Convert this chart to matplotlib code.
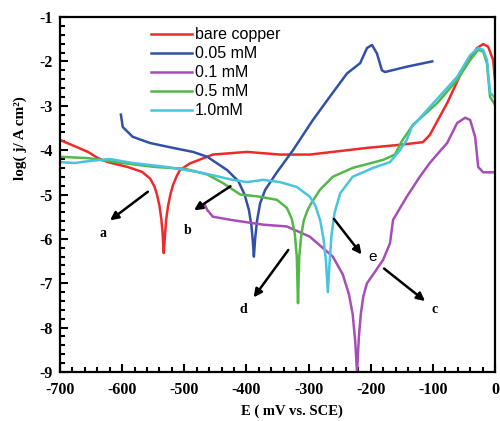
import matplotlib

matplotlib.use("Agg")
import matplotlib.pyplot as plt
from matplotlib.ticker import MultipleLocator

plt.rcParams["axes.unicode_minus"] = False

# potential E (mV vs SCE) and log current density for each curve
bare_e = [-700, -655, -639, -623, -591, -568, -555, -548, -544, -540, -537, -535, -533, -531, -529, -526,
          -522, -518, -512, -507, -491, -454, -399, -346, -298, -261, -206, -153, -116, -105, -77, -52,
          -29, -19, -11, -3, 0]
bare_j = [-3.77, -4.04, -4.18, -4.27, -4.38, -4.49, -4.64, -4.82, -5.0, -5.25, -5.55, -5.85, -6.32, -5.9, -5.55, -5.25,
          -4.98, -4.78, -4.58, -4.45, -4.3, -4.1, -4.04, -4.1, -4.1, -4.04, -3.95, -3.88, -3.82, -3.66, -2.94, -2.19,
          -1.7, -1.61, -1.67, -1.97, -2.42]

c005_e = [-602, -599, -583, -555, -518, -486, -463, -431, -413, -403, -396, -392, -390, -388, -386, -383,
          -378, -370, -351, -325, -293, -266, -238, -217, -206, -198, -190, -182, -177, -142, -101]
c005_j = [-3.2, -3.48, -3.7, -3.84, -3.95, -4.04, -4.15, -4.45, -4.7, -5.0, -5.35, -5.7, -6.0, -6.4, -6.0, -5.6,
          -5.2, -4.9, -4.5, -4.0, -3.32, -2.8, -2.27, -2.04, -1.7, -1.63, -1.82, -2.2, -2.24, -2.12, -2.0]

c01_e = [-467, -463, -454, -426, -373, -335, -298, -261, -245, -235, -229, -225, -222, -219, -216, -212,
         -206, -193, -180, -169, -164, -142, -121, -105, -84, -77, -61, -48, -40, -32, -27, -19, 0]
c01_j = [-5.23, -5.35, -5.5, -5.57, -5.68, -5.72, -5.95, -6.4, -6.8, -7.25, -7.7, -8.3, -9.0, -8.2, -7.7, -7.3,
         -7.0, -6.74, -6.47, -6.1, -5.57, -5.05, -4.6, -4.29, -3.95, -3.84, -3.39, -3.27, -3.32, -3.7, -4.38, -4.5, -4.5]

c05_e = [-700, -655, -600, -547, -499, -463, -438, -410, -378, -351, -335, -327, -322, -319, -317, -315,
         -312, -308, -303, -298, -282, -261, -229, -180, -161, -150, -132, -93, -61, -40, -27, -19, -13, -8, 0]
c05_j = [-4.15, -4.18, -4.29, -4.38, -4.42, -4.55, -4.74, -5.0, -5.05, -5.12, -5.3, -5.55, -5.9, -6.4, -7.45, -6.4,
         -5.95, -5.6, -5.4, -5.25, -4.9, -4.6, -4.4, -4.22, -4.1, -3.8, -3.43, -2.94, -2.42, -1.97, -1.74, -1.78,
         -2.04, -2.8, -2.98]

c10_e = [-700, -676, -655, -620, -583, -528, -475, -422, -399, -373, -346, -319, -298, -289, -281, -276, -272,
         -269, -266, -263, -258, -249, -229, -196, -169, -153, -142, -134, -105, -61, -40, -27, -19, -13, -8, 0]
c10_j = [-4.27, -4.29, -4.25, -4.2, -4.29, -4.38, -4.5, -4.67, -4.72, -4.67, -4.72, -4.83, -5.05, -5.25, -5.6, -6.0,
         -6.5, -7.2, -6.5, -5.9, -5.4, -4.97, -4.6, -4.4, -4.27, -4.0, -3.77, -3.48, -3.03, -2.35, -1.86, -1.7,
         -1.74, -1.97, -2.71, -2.82]

series = [
    ("bare copper", bare_e, bare_j, "#ee2a2a"),
    ("0.05 mM", c005_e, c005_j, "#3150a8"),
    ("0.1 mM", c01_e, c01_j, "#a64db8"),
    ("0.5 mM", c05_e, c05_j, "#52b848"),
    ("1.0mM", c10_e, c10_j, "#48c4de"),
]

# curve labels: (text, arrow tail, arrow head, text position)
labels = [
    ("a", (-555, -4.9), (-623, -5.62), (-631, -5.87)),
    ("b", (-422, -4.78), (-488, -5.39), (-494, -5.8)),
    ("d", (-330, -6.2), (-391, -7.37), (-405, -7.6)),
    ("c", (-182, -6.63), (-109, -7.44), (-97, -7.6)),
    ("e", (-262, -5.5), (-212, -6.4), (-204, -6.4)),
]

fig = plt.figure(figsize=(5.0, 4.21), dpi=100)
ax = fig.add_axes([0.12, 0.1164, 0.87, 0.8432])

for name, e, j, color in series:
    ax.plot(e, j, color=color, lw=1.8, label=name, solid_joinstyle="round")

for text, tail, head, pos in labels:
    ax.annotate("", xy=head, xytext=tail,
                arrowprops=dict(arrowstyle="-|>", lw=1.8, color="black", mutation_scale=12))
    if text == "e":
        ax.text(pos[0], pos[1], text, fontsize=11, ha="left", va="center", family="Liberation Sans")
    else:
        ax.text(pos[0], pos[1], text, fontsize=10, ha="center", va="center",
                family="Liberation Serif", fontweight="bold")

ax.set_xlim(-700, 0)
ax.set_ylim(-9, -1)
ax.xaxis.set_major_locator(MultipleLocator(100))
ax.xaxis.set_minor_locator(MultipleLocator(20))
ax.yaxis.set_major_locator(MultipleLocator(1))
ax.yaxis.set_minor_locator(MultipleLocator(0.2))
ax.tick_params(which="both", direction="in", width=1.5, top=False, right=False)
ax.tick_params(which="major", length=6)
ax.tick_params(which="minor", length=3.5)
ax.tick_params(axis="x", pad=7)
ax.tick_params(axis="y", pad=5)
for lab in ax.get_xticklabels() + ax.get_yticklabels():
    lab.set_family("Liberation Serif")
    lab.set_fontweight("bold")
    lab.set_fontsize(11.5)
for sp in ax.spines.values():
    sp.set_linewidth(1.6)

ax.set_xlabel("E ( mV vs. SCE)", family="Liberation Serif", fontweight="bold", fontsize=10.5)
ax.xaxis.set_label_coords(0.533, -0.092)
ax.set_ylabel("log( j/ A cm²)", family="Liberation Serif", fontweight="bold", fontsize=11)
ax.yaxis.set_label_coords(-0.075, 0.66)

ax.legend(loc="upper left", bbox_to_anchor=(0.175, 1.012), frameon=False, handlelength=2.6,
          handletextpad=0.2, labelspacing=0.25, prop={"family": "Liberation Sans", "size": 11.5})

fig.savefig("out.png", dpi=100)
